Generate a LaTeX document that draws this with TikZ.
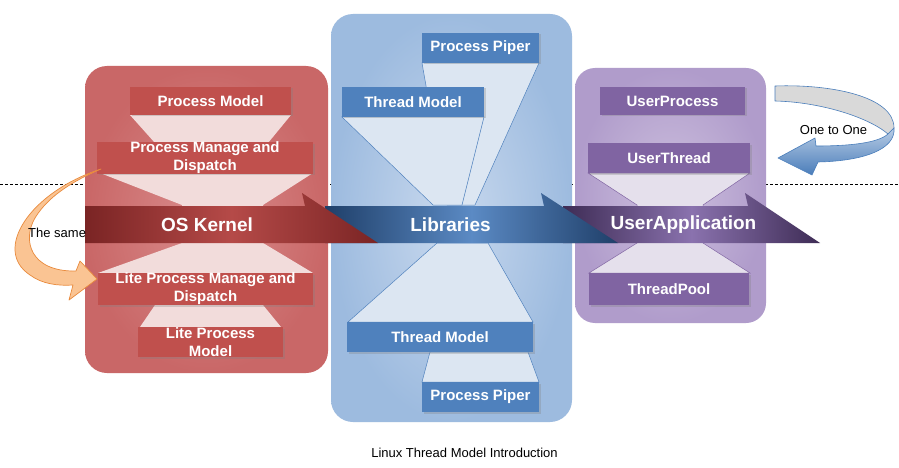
\documentclass[tikz,border=0pt]{standalone}
\usepackage{fontspec}
\setmainfont{Liberation Sans}
\usetikzlibrary{shadows}

% palette
\definecolor{boxred}{HTML}{C0504D}
\definecolor{boxblue}{HTML}{4F81BD}
\definecolor{boxpurple}{HTML}{8064A2}
\definecolor{panelredout}{HTML}{C96767}
\definecolor{panelredin}{HTML}{D98C8C}
\definecolor{panelblueout}{HTML}{9DBBDF}
\definecolor{panelbluein}{HTML}{C9D9EE}
\definecolor{panelpurpout}{HTML}{B09CCB}
\definecolor{panelpurpin}{HTML}{CDC0DE}
\definecolor{funnelred}{HTML}{F2DCDB}
\definecolor{funnelblue}{HTML}{DCE6F2}
\definecolor{funnelpurp}{HTML}{E5E0EC}
\definecolor{arrowreddark}{HTML}{7A2424}
\definecolor{arrowredmid}{HTML}{B54A48}
\definecolor{arrowbluedark}{HTML}{1F3F69}
\definecolor{arrowbluemid}{HTML}{5B8AC4}
\definecolor{arrowpurpdark}{HTML}{3E2C55}
\definecolor{arrowpurpmid}{HTML}{8A72AE}
\definecolor{orangefill}{HTML}{FAC493}
\definecolor{orangeedge}{HTML}{E98A3C}
\definecolor{loopgrey}{HTML}{D9D9D9}
\definecolor{loopedge}{HTML}{4A7EBB}
\definecolor{looplight}{HTML}{B9CDE5}
\definecolor{loopdark}{HTML}{4A7DBA}

\tikzset{
  boxbase/.style={inner sep=0pt, align=center, text=white,
    font=\bfseries\fontsize{15}{18}\selectfont,
    drop shadow={shadow xshift=1.5pt, shadow yshift=-1.5pt, opacity=0.3}},
  kernelbox/.style={boxbase, fill=boxred},
  libbox/.style={boxbase, fill=boxblue},
  userbox/.style={boxbase, fill=boxpurple},
  bandlabel/.style={text=white, font=\bfseries\fontsize{19}{22}\selectfont},
  plainlabel/.style={text=black, font=\fontsize{13}{15}\selectfont},
  guideline/.style={black, line width=0.8pt, dash pattern=on 3pt off 2pt},
  panel/.style={rounded corners=22pt},
}

\begin{document}
\begin{tikzpicture}[x=1pt,y=-1pt]
\useasboundingbox (0,0) rectangle (899,468);
\fill[white] (0,0) rectangle (899,468);

% dashed separator behind the panels
\draw[guideline] (0,184) -- (899,184);

% the three layer panels
\shade[panel, inner color=panelredin, outer color=panelredout] (85,66) rectangle (328,373);
\shade[panel, inner color=panelbluein, outer color=panelblueout] (331,14) rectangle (572,422);
\shade[panel, rounded corners=20pt, inner color=panelpurpin, outer color=panelpurpout] (575,68) rectangle (766,323);

% kernel funnels
\fill[funnelred] (130,115) -- (291,115) -- (268,143) -- (155,143) -- cycle;
\fill[funnelred] (100,173) -- (313,173) -- (263,205) -- (263,243) -- (313,273)
  -- (98,273) -- (182,243) -- (182,205) -- cycle;
\fill[funnelred] (155,305) -- (263,305) -- (281,327) -- (140,327) -- cycle;

% library funnels
\filldraw[fill=funnelblue, draw=boxblue, line width=0.5pt] (422,63) -- (539,63) -- (475,205) -- (447,205) -- cycle;
\filldraw[fill=funnelblue, draw=boxblue, line width=0.5pt] (342,117) -- (484,117) -- (462,205) -- (433,205) -- cycle;
\filldraw[fill=funnelblue, draw=boxblue, line width=0.5pt] (437,243) -- (488,243) -- (533,322) -- (348,322) -- cycle;
\filldraw[fill=funnelblue, draw=boxblue, line width=0.5pt] (430,352) -- (528,352) -- (539,382) -- (422,382) -- cycle;

% user application funnel
\filldraw[fill=funnelpurp, draw=boxpurple, line width=0.5pt] (588,173) -- (750,173) -- (703,205) -- (703,243)
  -- (750,273) -- (589,273) -- (637,243) -- (637,205) -- cycle;

% kernel boxes
\node[kernelbox, minimum width=161pt, minimum height=28pt] (pm) at (210.5,101) {Process Model};
\node[kernelbox, minimum width=216pt, minimum height=30pt] (pmd) at (205,158) {Process Manage and\\Dispatch};
\node[kernelbox, minimum width=215pt, minimum height=32pt] (lpmd) at (205.5,289) {Lite Process Manage and\\Dispatch};
\node[kernelbox, minimum width=145pt, minimum height=30pt] (lpm) at (210.5,342) {Lite Process\\Model};

% library boxes
\node[libbox, minimum width=117pt, minimum height=30pt] (pp1) at (480.5,48) {Process Piper};
\node[libbox, minimum width=142pt, minimum height=30pt] (tm1) at (413,102) {Thread Model};
\node[libbox, minimum width=186pt, minimum height=30pt] (tm2) at (440,337) {Thread Model};
\node[libbox, minimum width=117pt, minimum height=30pt] (pp2) at (480.5,397) {Process Piper};

% user boxes
\node[userbox, minimum width=145pt, minimum height=28pt] (up) at (672.5,101) {UserProcess};
\node[userbox, minimum width=162pt, minimum height=30pt] (ut) at (669,158) {UserThread};
\node[userbox, minimum width=160pt, minimum height=32pt] (tp) at (669,289) {ThreadPool};

% layer arrows, drawn right to left so each head lies over the next band
\shade[left color=arrowpurpdark, right color=arrowpurpdark, middle color=arrowpurpmid]
  (563,206) -- (748,206) -- (745,193) -- (820,243) -- (563,243) -- cycle;
\shade[left color=arrowbluedark, right color=arrowbluedark, middle color=arrowbluemid]
  (325,206) -- (544,206) -- (541,193) -- (618,243) -- (325,243) -- cycle;
\shade[left color=arrowreddark, right color=arrowreddark, middle color=arrowredmid]
  (85,206) -- (305,206) -- (302,193) -- (378,243) -- (85,243) -- cycle;
\node[bandlabel] (oskernel) at (207,225) {OS Kernel};
\node[bandlabel] (libs) at (450.5,225) {Libraries};
\node[bandlabel] (userapp) at (683.5,225) {UserApplication};

% curved block arrow: dispatch -> lite dispatch
\filldraw[fill=orangefill, draw=orangeedge, line width=0.7pt, line join=round]
  (101,169) .. controls (30,192) and (-8,250) .. (30,275)
  .. controls (42,284) and (58,286) .. (73,285) -- (69,300) -- (97,279)
  -- (80,261) -- (76,271) .. controls (30,272) and (22,240) .. (35,218)
  .. controls (50,193) and (80,178) .. (101,169) -- cycle;
\node[plainlabel, anchor=west, inner sep=0pt] (same) at (28,233) {The same};

% loop arrow: process -> thread, one to one
\filldraw[fill=loopgrey, draw=loopedge, line width=0.6pt, line join=round]
  (775,86) .. controls (830,84) and (894,96) .. (894,128) -- (888,134)
  .. controls (868,117) and (820,102) .. (775,101) -- cycle;
\shade[top color=looplight, bottom color=loopdark]
  (894,128) .. controls (896,150) and (862,161) .. (818,162) -- (812,175) -- (778,158)
  -- (815,138) -- (816,146) .. controls (850,146) and (878,143) .. (888,134) -- cycle;
\draw[loopedge, line width=0.6pt, line join=round]
  (894,128) .. controls (896,150) and (862,161) .. (818,162) -- (812,175) -- (778,158)
  -- (815,138) -- (816,146) .. controls (850,146) and (878,143) .. (888,134) -- cycle;
\node[plainlabel] (onetoone) at (833.5,130) {One to One};

% caption
\node[plainlabel] (caption) at (464.5,453) {Linux Thread Model Introduction};
\end{tikzpicture}
\end{document}
